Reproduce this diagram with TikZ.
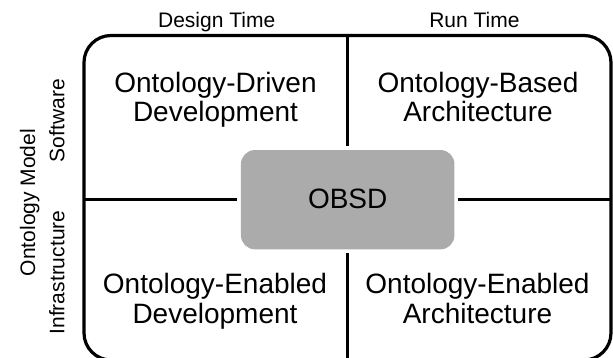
\documentclass[tikz,border=0pt]{standalone}
\usepackage{fontspec}
\setmainfont{Liberation Sans}
\definecolor{obsdgray}{RGB}{171,171,171}
\begin{document}
\begin{tikzpicture}[x=1pt,y=-1pt,
  framebox/.style={draw=black, line width=3.2pt, rounded corners=27pt,
    inner sep=0pt, outer sep=0pt},
  divider/.style={draw=black, line width=3.2pt},
  core/.style={fill=obsdgray, rounded corners=14pt, inner sep=0pt,
    outer sep=4pt, font=\fontsize{28}{30}\selectfont},
  head/.style={anchor=base, inner sep=0pt, font=\fontsize{21}{24}\selectfont},
  side/.style={anchor=base, rotate=90, inner sep=0pt,
    font=\fontsize{21}{24}\selectfont},
  quad/.style={anchor=base, inner sep=0pt, font=\fontsize{28}{30}\selectfont},
]
\useasboundingbox (0,0) rectangle (613,358);
\clip (0,0) rectangle (613,358);

% outer frame and the central OBSD box
\node[framebox, minimum width=527pt, minimum height=324.5pt] (frame) at (347.5,197.75) {};
\node[core, minimum width=213.5pt, minimum height=99.3pt] (obsd) at (347.7,199.7)
  {\raisebox{2.5pt}{OBSD}};

% quadrant dividers running from the frame to the OBSD box
\draw[divider] (frame.north -| obsd.north) -- (obsd.north);
\draw[divider] (obsd.south) -- (obsd.south |- frame.south);
\draw[divider] (frame.west |- obsd.west) -- (obsd.west);
\draw[divider] (obsd.east) -- (obsd.east -| frame.east);

% column headers
\node[head] (design) at (216.7,27.3) {Design Time};
\node[head] (run) at (474.4,27.3) {Run Time};

% row headers
\node[side] (model) at (35,202.5) {Ontology Model};
\node[side] (software) at (64.3,120.7) {Software};
\node[side] (infra) at (64.3,272.5) {Infrastructure};

% quadrant labels
\node[quad] (tlA) at (215.5,93) {Ontology-Driven};
\node[quad] (tlB) at (215.5,122) {Development};
\node[quad] (trA) at (478,92.5) {Ontology-Based};
\node[quad] (trB) at (478,122) {Architecture};
\node[quad] (blA) at (215,293) {Ontology-Enabled};
\node[quad] (blB) at (215,323) {Development};
\node[quad] (brA) at (477.5,293) {Ontology-Enabled};
\node[quad] (brB) at (477.5,323) {Architecture};
\end{tikzpicture}
\end{document}
